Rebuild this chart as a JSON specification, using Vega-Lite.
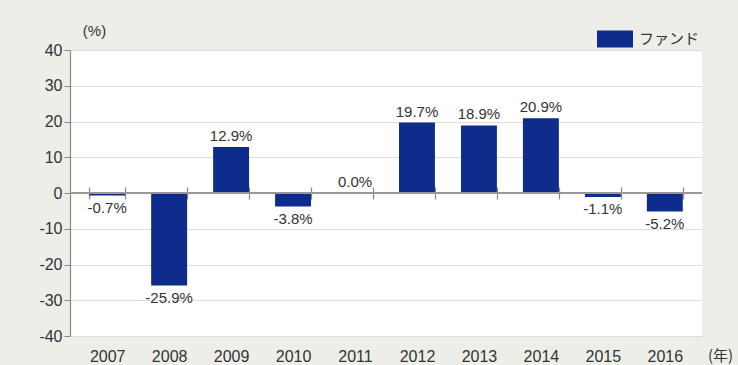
{
  "$schema": "https://vega.github.io/schema/vega-lite/v6.json",
  "autosize": "none",
  "width": 632,
  "height": 286,
  "padding": {"left": 70, "top": 50, "right": 36, "bottom": 29},
  "background": "#eeeee9",
  "config": {
    "view": {"fill": "white", "stroke": null},
    "font": "Liberation Sans, sans-serif"
  },
  "data": {
    "values": [
      {"year": "2007", "value": -0.7, "label": "-0.7%", "series": "ファンド"},
      {"year": "2008", "value": -25.9, "label": "-25.9%", "series": "ファンド"},
      {"year": "2009", "value": 12.9, "label": "12.9%", "series": "ファンド"},
      {"year": "2010", "value": -3.8, "label": "-3.8%", "series": "ファンド"},
      {"year": "2011", "value": 0.0, "label": "0.0%", "series": "ファンド"},
      {"year": "2012", "value": 19.7, "label": "19.7%", "series": "ファンド"},
      {"year": "2013", "value": 18.9, "label": "18.9%", "series": "ファンド"},
      {"year": "2014", "value": 20.9, "label": "20.9%", "series": "ファンド"},
      {"year": "2015", "value": -1.1, "label": "-1.1%", "series": "ファンド"},
      {"year": "2016", "value": -5.2, "label": "-5.2%", "series": "ファンド"}
    ]
  },
  "encoding": {
    "x": {
      "field": "year",
      "type": "ordinal",
      "scale": {"paddingInner": 0.42, "paddingOuter": 0.31},
      "axis": {
        "orient": "bottom",
        "offset": -149,
        "domain": false,
        "ticks": true,
        "tickBand": "extent",
        "tickSize": 12,
        "tickColor": "#888888",
        "tickWidth": 1.2,
        "labelPadding": 149,
        "labelAngle": 0,
        "labelFontSize": 16,
        "labelColor": "#333333",
        "title": "(年)",
        "titleFont": "Noto Sans CJK JP",
        "titleFontSize": 15,
        "titleFontWeight": "normal",
        "titleColor": "#333333",
        "titleX": 650,
        "titleY": 168,
        "titleAlign": "center",
        "titleBaseline": "middle"
      }
    },
    "y": {
      "field": "value",
      "type": "quantitative",
      "scale": {"domain": [-40, 40]},
      "axis": {
        "values": [-40, -30, -20, -10, 0, 10, 20, 30, 40],
        "tickCount": 9,
        "labelExpr": "datum.value + ''",
        "labelOverlap": false,
        "grid": true,
        "gridColor": "#dcdcdc",
        "domainColor": "#888888",
        "domainWidth": 1.2,
        "tickColor": "#888888",
        "tickSize": 6,
        "labelPadding": 2,
        "labelFontSize": 16,
        "labelColor": "#333333",
        "title": "(%)",
        "titleAngle": 0,
        "titleX": 24,
        "titleY": -20,
        "titleAlign": "center",
        "titleBaseline": "middle",
        "titleFontSize": 15,
        "titleFontWeight": "normal",
        "titleColor": "#333333"
      }
    }
  },
  "layer": [
    {
      "mark": {"type": "bar", "color": "#0d2c8c"},
      "encoding": {
        "fill": {
          "field": "series",
          "type": "nominal",
          "scale": {"range": ["#0d2c8c"]},
          "legend": {
            "title": null,
            "orient": "none",
            "legendX": 527,
            "legendY": -29,
            "symbolType": "M-1,-0.47H1V0.47H-1Z",
            "symbolSize": 1296,
            "symbolStrokeWidth": 0,
            "labelFont": "Noto Sans CJK JP",
            "labelFontSize": 15,
            "labelColor": "#333333",
            "labelOffset": 6
          }
        }
      }
    },
    {
      "mark": {"type": "rule", "color": "#999999", "strokeWidth": 1.5},
      "encoding": {"y": {"datum": 0}, "x": {"value": 0}, "x2": {"value": 632}}
    },
    {
      "transform": [{"filter": "datum.value >= 0"}],
      "mark": {"type": "text", "baseline": "bottom", "dy": -3, "fontSize": 15, "color": "#333333"},
      "encoding": {"text": {"field": "label"}}
    },
    {
      "transform": [{"filter": "datum.value < 0"}],
      "mark": {"type": "text", "baseline": "top", "dy": 5, "fontSize": 15, "color": "#333333"},
      "encoding": {"text": {"field": "label"}}
    }
  ]
}
